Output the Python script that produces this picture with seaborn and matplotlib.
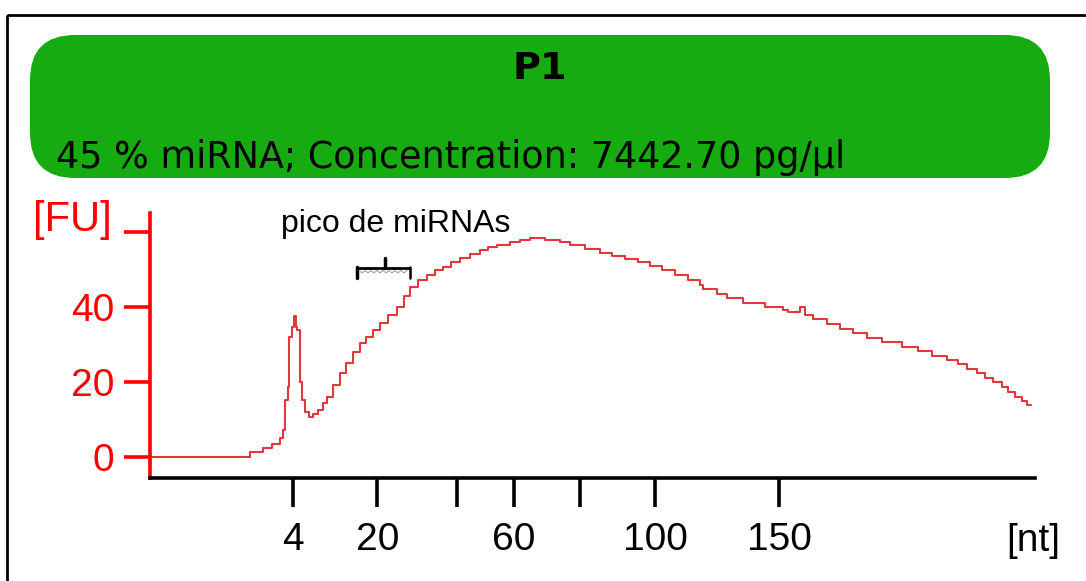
import numpy as np
import pandas as pd
import matplotlib
matplotlib.use("Agg")
import matplotlib.pyplot as plt
import seaborn as sns
from matplotlib.patches import FancyBboxPatch, Rectangle

# ---------------- data ----------------
# position along the electropherogram axis (arbitrary migration units)
position = [0.0, 10.0, 11.3, 12.2, 13.0, 13.3, 13.5, 13.8, 13.9, 14.2, 14.4, 14.55, 14.7,
            15.0, 15.2, 15.5, 15.9, 16.3, 16.8, 17.3, 17.7, 18.3, 19.0, 19.6, 20.3, 21.0,
            21.6, 22.3, 23.0, 23.8, 24.7, 25.4, 26.0, 26.8, 27.7, 28.5, 29.3, 30.1, 31.0,
            32.0, 33.0, 33.8, 34.7, 36.0, 37.0, 38.0, 39.5, 41.0, 42.0, 43.5, 45.0, 46.2,
            47.5, 48.8, 50.0, 51.2, 52.5, 53.8, 55.0, 55.3, 56.7, 57.7, 59.3, 61.5, 63.3,
            63.8, 65.0, 65.5, 66.3, 67.7, 69.0, 70.3, 71.7, 73.2, 75.2, 76.8, 78.2, 79.7,
            80.8, 81.7, 82.7, 83.5, 84.3, 85.2, 85.8, 86.5, 87.2, 87.7, 88.1]
fluorescence = [0, 1.3, 2.3, 3.4, 5.0, 7.1, 15.1, 18.6, 31.9, 34.6, 37.5, 34.6, 33.8,
                19.9, 15.1, 11.9, 10.6, 11.4, 12.5, 14.2, 16.0, 19.0, 22.2, 25.0, 27.8, 30.2,
                32.0, 33.8, 35.6, 37.9, 40.0, 42.8, 45.3, 47.0, 48.5, 49.7, 50.7, 51.8, 52.9,
                54.0, 55.1, 55.9, 56.5, 57.3, 57.8, 58.2, 57.8, 57.3, 56.5, 55.5, 54.3, 53.5,
                52.7, 51.8, 50.9, 49.8, 48.5, 47.2, 45.8, 44.6, 43.4, 42.2, 41.1, 39.8, 39.1,
                38.7, 39.8, 37.8, 36.6, 35.4, 34.1, 32.9, 31.6, 30.7, 29.3, 28.2, 26.9, 25.8,
                24.6, 23.5, 22.2, 21.1, 19.8, 18.7, 17.3, 16.0, 14.9, 13.8, 13.8]

nt_tick_pos = [14.33, 22.73, 30.67, 36.4, 43.0, 50.5, 62.9]
nt_tick_labels = ["4", "20", "", "60", "", "100", "150"]
fu_ticks = [0, 20, 40, 60]
fu_labels = ["0", "20", "40", ""]

title_text = "P1"
info_text = "45 % miRNA; Concentration: 7442.70 pg/\u00b5l"
annot_text = "pico de miRNAs"

df = pd.DataFrame({"position": position, "FU": fluorescence})

# ---------------- style ----------------
sns.set_style("white")
plt.rcParams["font.family"] = ["Liberation Sans", "DejaVu Sans"]

W, H = 1086, 581
fig = plt.figure(figsize=(W / 100, H / 100), dpi=100)

ax = fig.add_axes([150 / W, 1 - 478 / H, 885 / W, 265 / H])
ax.set_facecolor("none")
sns.lineplot(data=df, x="position", y="FU", ax=ax, color="#E0383C", lw=1.5,
             drawstyle="steps-post", estimator=None, sort=False)
ax.set_xlim(0, 88.5)
ax.set_ylim(-5.68, 65.0)
ax.set_xlabel("")
ax.set_ylabel("")

for s in ["top", "right"]:
    ax.spines[s].set_visible(False)
ax.spines["left"].set_color("#FF0000")
ax.spines["left"].set_linewidth(2.6)
ax.spines["bottom"].set_color("black")
ax.spines["bottom"].set_linewidth(2.6)

ax.set_yticks(fu_ticks)
ax.set_yticklabels(fu_labels)
ax.tick_params(axis="y", left=True, direction="out", length=18.5, width=2.6, color="#FF0000",
               labelcolor="#FF0000", labelsize=28, pad=7)
ax.set_xticks(nt_tick_pos)
ax.set_xticklabels(nt_tick_labels)
ax.tick_params(axis="x", bottom=True, direction="out", length=21, width=2.6, color="black",
               labelcolor="black", labelsize=28, pad=11)

# ---------------- overlay in pixel coordinates ----------------
ov = fig.add_axes([0, 0, 1, 1])
ov.set_xlim(0, W)
ov.set_ylim(H, 0)
ov.axis("off")
ov.patch.set_alpha(0)

ov.add_patch(Rectangle((7, 15), 1300, 800, fill=False, edgecolor="black", lw=2.0,
                       clip_on=False))
ov.add_patch(FancyBboxPatch((30, 35), 1020, 143,
                            boxstyle="round,pad=0,rounding_size=45",
                            facecolor="#16AB10", edgecolor="none"))
ov.text(540, 69, title_text, ha="center", va="center", fontsize=27.5,
        fontweight="bold", family=["DejaVu Sans"], color="black")
ov.text(56, 168, info_text, ha="left", va="baseline", fontsize=26.3,
        family=["DejaVu Sans"], color="black")

ov.text(112, 220, "[FU]", ha="right", va="center", fontsize=30, color="#FF0000")
ov.text(1033, 541, "[nt]", ha="center", va="center", fontsize=28, color="black")

ov.text(396, 224, annot_text, ha="center", va="center", fontsize=23, color="black")
# bracket marking the miRNA region
ov.plot([356, 410], [268, 268], color="black", lw=2, solid_capstyle="butt")
ov.plot([357, 357], [267, 278], color="black", lw=2.5)
ov.plot([409.5, 409.5], [267, 278], color="black", lw=1.8)
ov.plot([385, 385], [258, 268], color="black", lw=2.5)
zx = np.arange(359, 408, 3.0)
zy = np.where(np.arange(len(zx)) % 2 == 0, 270.5, 273.0)
ov.plot(zx, zy, color="#999999", lw=0.7)

fig.savefig("out.png", dpi=100)
